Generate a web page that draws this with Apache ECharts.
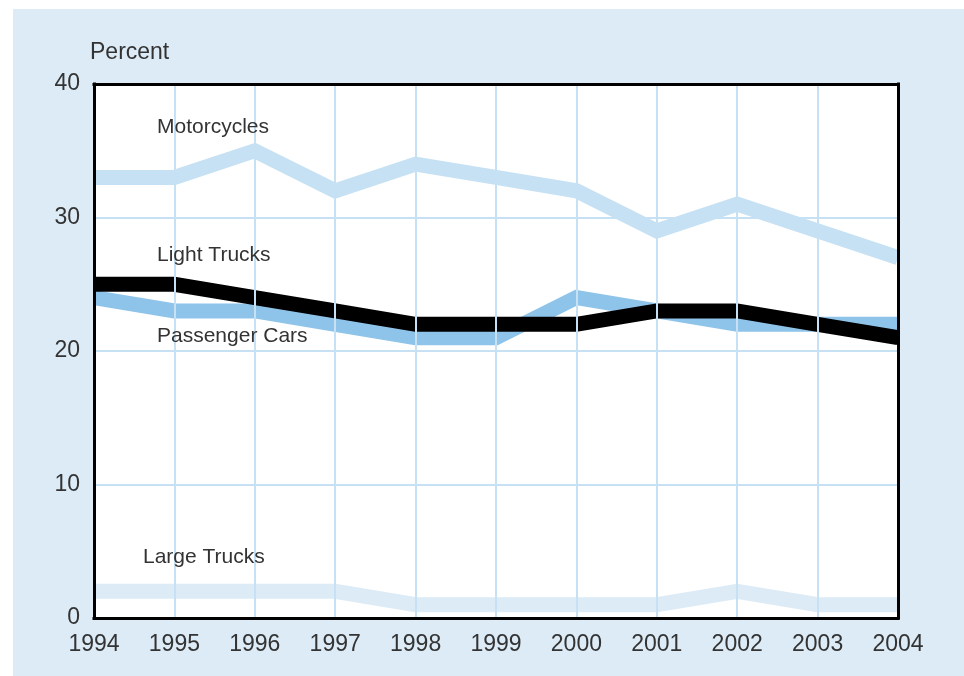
<!DOCTYPE html>
<html><head><meta charset="utf-8">
<script src="https://cdn.jsdelivr.net/npm/echarts@6/dist/echarts.min.js"></script>
<style>html,body{margin:0;padding:0;background:#fff}#c{width:964px;height:676px}</style>
</head><body><div id="c"></div>
<script>
var years = ['1994','1995','1996','1997','1998','1999','2000','2001','2002','2003','2004'];
var motorcycles   = [33, 33, 35, 32, 34, 33, 32, 29, 31, 29, 27];
var passengerCars = [24, 23, 23, 22, 21, 21, 24, 23, 22, 22, 22];
var lightTrucks   = [25, 25, 24, 23, 22, 22, 22, 23, 23, 22, 21];
var largeTrucks   = [2, 2, 2, 2, 1, 1, 1, 1, 2, 1, 1];
var yTicks = [0, 10, 20, 30, 40];

var FONT = 'Liberation Sans';
var chart = echarts.init(document.getElementById('c'), null, {renderer: 'canvas'});
function line(name, data, color, z) {
  return {
    name: name, type: 'line', data: data, symbol: 'none', z: z,
    lineStyle: {color: color, width: 15, join: 'miter', cap: 'butt'},
    emphasis: {disabled: true}, animation: false
  };
}
var border = {show: true, onZero: false, lineStyle: {color: '#000', width: 3, cap: 'square'}};
chart.setOption({
  animation: false,
  backgroundColor: '#fff',
  graphic: [
    {type: 'rect', left: 13, top: 9, shape: {width: 951, height: 667}, style: {fill: '#dcebf6'}, z: -10},
    {type: 'text', left: 90, top: 41, style: {text: 'Percent', font: '23px ' + FONT, fill: '#333'}},
    {type: 'text', left: 157, top: 117, style: {text: 'Motorcycles', font: '21px ' + FONT, fill: '#333'}, z: 100},
    {type: 'text', left: 157, top: 245, style: {text: 'Light Trucks', font: '21px ' + FONT, fill: '#333'}, z: 100},
    {type: 'text', left: 157, top: 326, style: {text: 'Passenger Cars', font: '21px ' + FONT, fill: '#333'}, z: 100},
    {type: 'text', left: 143, top: 547, style: {text: 'Large Trucks', font: '21px ' + FONT, fill: '#333'}, z: 100}
  ],
  grid: {left: 94, right: 66, top: 84, bottom: 58, show: true, backgroundColor: '#fff', borderWidth: 0},
  xAxis: [{
    type: 'category', data: years, boundaryGap: false, position: 'bottom', z: 20,
    axisLine: border, axisTick: {show: false},
    axisLabel: {color: '#333', fontSize: 23, fontFamily: FONT, margin: 15},
    splitLine: {show: true, lineStyle: {color: '#c6e1f4', width: 2}}
  }, {
    type: 'category', data: years, boundaryGap: false, position: 'top', z: 20,
    axisLine: border, axisTick: {show: false}, axisLabel: {show: false}, splitLine: {show: false}
  }],
  yAxis: [{
    type: 'value', min: yTicks[0], max: yTicks[yTicks.length - 1], interval: 10, position: 'left', z: 20,
    axisLine: border, axisTick: {show: false},
    axisLabel: {color: '#333', fontSize: 23, fontFamily: FONT, margin: 14},
    splitLine: {show: true, lineStyle: {color: '#c6e1f4', width: 2}}
  }, {
    type: 'value', min: yTicks[0], max: yTicks[yTicks.length - 1], interval: 10, position: 'right', z: 20,
    axisLine: border, axisTick: {show: false}, axisLabel: {show: false}, splitLine: {show: false}
  }],
  series: [
    line('Large Trucks', largeTrucks, '#dcebf6', 2),
    line('Motorcycles', motorcycles, '#c6e1f4', 3),
    line('Passenger Cars', passengerCars, '#8fc4ea', 4),
    line('Light Trucks', lightTrucks, '#000000', 5)
  ]
});
</script></body></html>
